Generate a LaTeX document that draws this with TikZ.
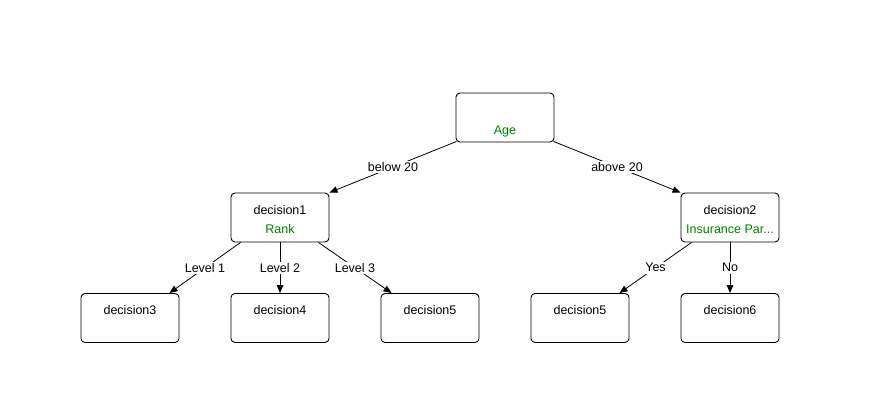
\documentclass[tikz,border=0pt]{standalone}
\usepackage{fontspec}
\setmainfont{Liberation Sans}
\usetikzlibrary{arrows.meta}
\definecolor{attr}{RGB}{0,128,0}
\begin{document}
\begin{tikzpicture}[x=1pt,y=-1pt,
  box/.style={draw, rounded corners=4pt, minimum width=98pt, minimum height=49pt, line width=0.9pt, inner sep=0pt},
  txt/.style={font=\fontsize{12.5}{14}\selectfont, inner sep=0pt, anchor=base},
  attrtxt/.style={txt, text=attr},
  arr/.style={line width=0.8pt, -{Triangle[length=8pt,width=6.5pt]}},
  lbl/.style={font=\fontsize{12.5}{14}\selectfont, fill=white, inner sep=1.5pt, midway}
]
\useasboundingbox (0,0) rectangle (873,411);
% boxes
\node[box] (age) at (505,117.5) {};
\node[box] (d1) at (280,217.5) {};
\node[box] (d2) at (730,217.5) {};
\node[box] (d3) at (130,318) {};
\node[box] (d4) at (280,318) {};
\node[box] (d5) at (430,318) {};
\node[box] (d5b) at (580,318) {};
\node[box] (d6) at (730,318) {};
% texts
\node[attrtxt] (agel) at (505,135) {Age};
\node[txt] (d1t) at (280,215) {decision1};
\node[attrtxt] (d1a) at (280,234) {Rank};
\node[txt] (d2t) at (730,215) {decision2};
\node[attrtxt] (d2a) at (730,234) {Insurance Par...};
\node[txt] (d3t) at (130,314.5) {decision3};
\node[txt] (d4t) at (280,314.5) {decision4};
\node[txt] (d5t) at (430,314.5) {decision5};
\node[txt] (d5bt) at (580,314.5) {decision5};
\node[txt] (d6t) at (730,314.5) {decision6};
% edges
\draw[arr] ([xshift=1pt,yshift=1pt]age.south west) -- (d1.north east) node[lbl] {below 20};
\draw[arr] ([xshift=-1pt,yshift=1pt]age.south east) -- (d2.north west) node[lbl] {above 20};
\draw[arr] ([xshift=10pt]d1.south west) -- ([xshift=-10pt]d3.north east) node[lbl] {Level 1};
\draw[arr] (d1.south) -- (d4.north) node[lbl] {Level 2};
\draw[arr] ([xshift=-11pt]d1.south east) -- ([xshift=11pt]d5.north west) node[lbl] {Level 3};
\draw[arr] ([xshift=11pt]d2.south west) -- ([xshift=-10pt]d5b.north east) node[lbl] {Yes};
\draw[arr] (d2.south) -- (d6.north) node[lbl] {No};
\end{tikzpicture}
\end{document}
